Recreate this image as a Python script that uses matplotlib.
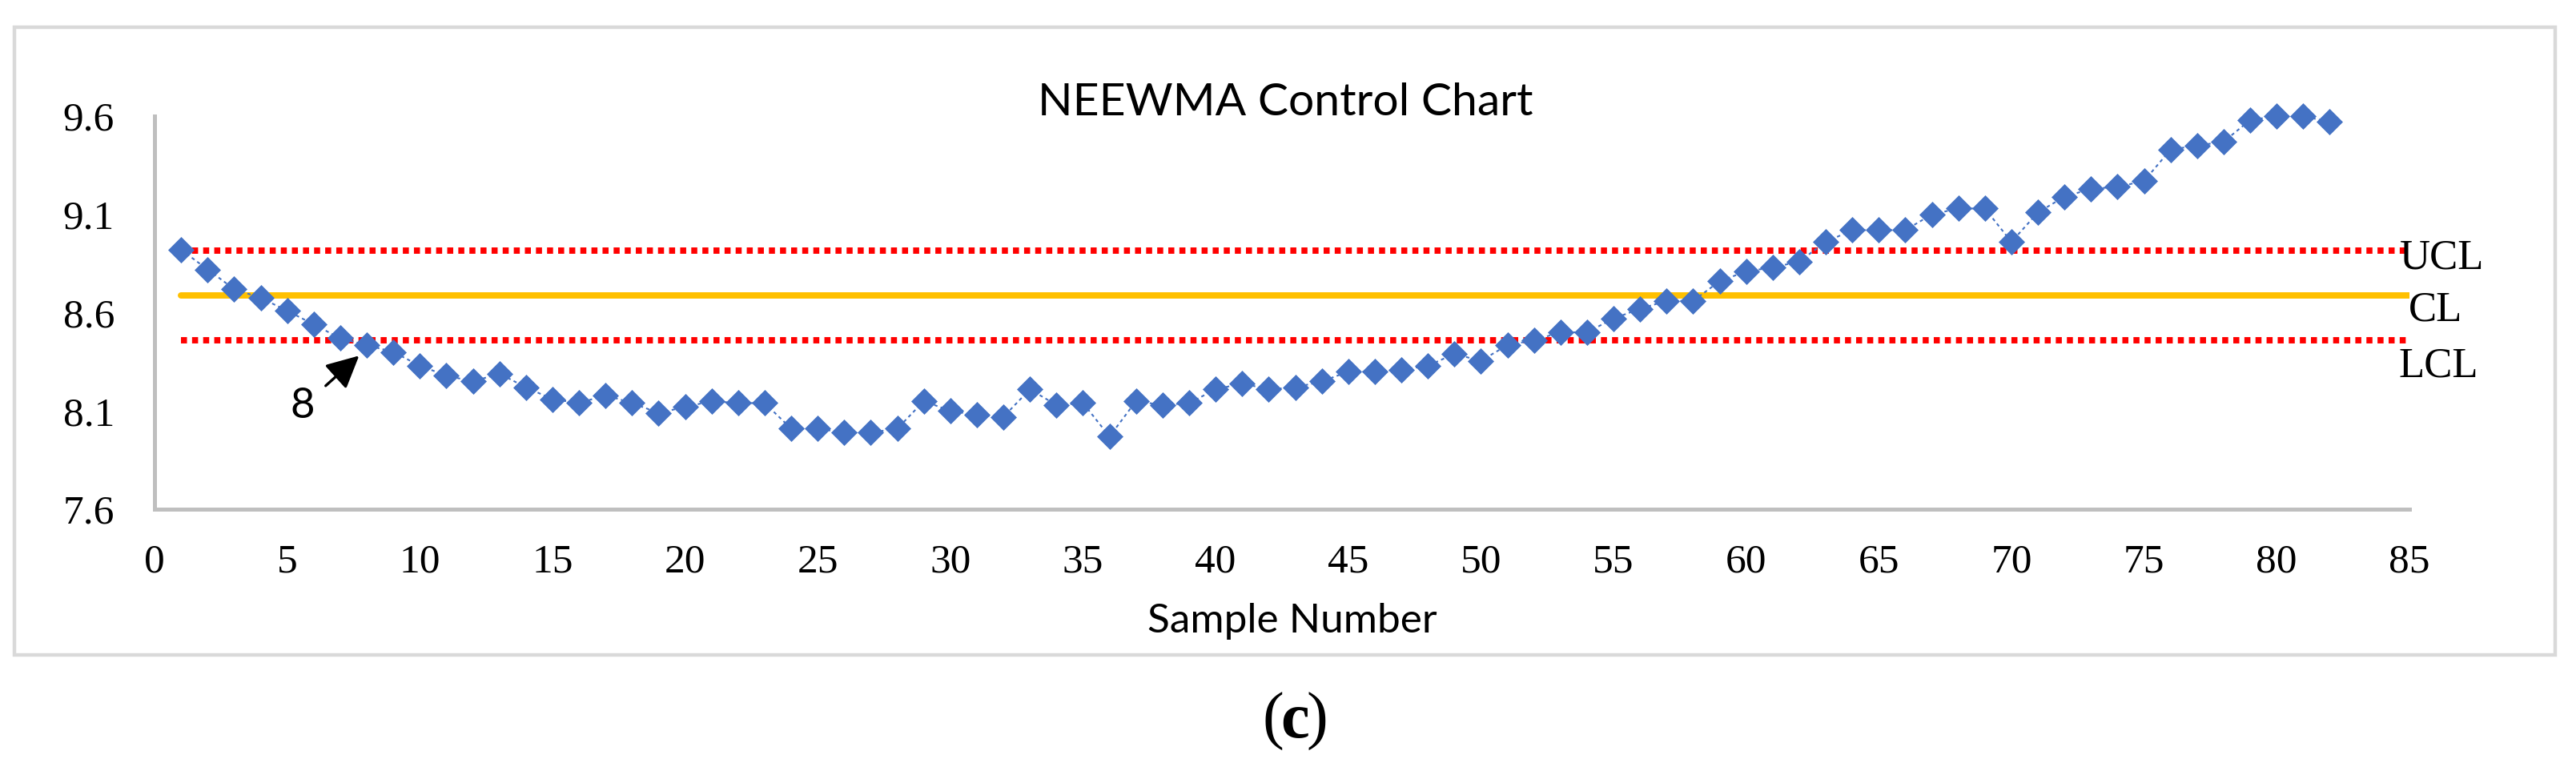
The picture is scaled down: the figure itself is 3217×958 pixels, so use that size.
import numpy as np
import matplotlib
matplotlib.use("Agg")
import matplotlib.pyplot as plt
from matplotlib.patches import Rectangle

# NEEWMA statistic per sample
samples = np.arange(1, 83)
neewma = [8.92, 8.82, 8.72, 8.675, 8.61, 8.54, 8.47, 8.435, 8.40, 8.33,
          8.28, 8.25, 8.29, 8.22, 8.16, 8.14, 8.18, 8.14, 8.09, 8.12,
          8.15, 8.14, 8.14, 8.01, 8.01, 7.99, 7.99, 8.01, 8.15, 8.10,
          8.08, 8.07, 8.21, 8.13, 8.14, 7.97, 8.15, 8.13, 8.14, 8.21,
          8.24, 8.21, 8.22, 8.25, 8.30, 8.30, 8.31, 8.33, 8.39, 8.355,
          8.435, 8.46, 8.50, 8.50, 8.57, 8.62, 8.66, 8.66, 8.76, 8.81,
          8.83, 8.86, 8.96, 9.02, 9.02, 9.02, 9.10, 9.13, 9.13, 8.96,
          9.11, 9.19, 9.23, 9.24, 9.27, 9.43, 9.45, 9.47, 9.58, 9.60,
          9.60, 9.57]

UCL = 8.917
CL = 8.688
LCL = 8.461
limit_x = [1, 85]

xticks = list(range(0, 90, 5))
yticks = [7.6, 8.1, 8.6, 9.1, 9.6]

serif = "Liberation Serif"
sans = "Lato"

fig = plt.figure(figsize=(32.17, 9.58), dpi=100)
ax = fig.add_axes([0.0600, 0.3361, 0.8753, 0.5125])

# outer chart frame
fig.patches.append(Rectangle((0.0056, 0.1461), 0.9863, 0.8184, transform=fig.transFigure,
                             fill=False, edgecolor="#d9d9d9", linewidth=3.2))

ax.plot(limit_x, [UCL, UCL], color="#ff0000", lw=5.7, linestyle=(0, (0.95, 0.8)),
        dash_capstyle="butt", zorder=2)
ax.plot(limit_x, [LCL, LCL], color="#ff0000", lw=5.7, linestyle=(0, (0.95, 0.8)),
        dash_capstyle="butt", zorder=2)
ax.plot(limit_x, [CL, CL], color="#ffc000", lw=5.7, solid_capstyle="round", zorder=2)

ax.plot(samples, neewma, color="#4472c4", lw=1.5, linestyle=(0, (2, 2)), zorder=3,
        clip_on=False)
ax.plot(samples, neewma, linestyle="none", marker="D", ms=16.5, color="#4472c4",
        mec="#4472c4", mew=0.5, zorder=4, clip_on=False)

ax.text(84.65, 8.826, "UCL", fontsize=38, family=serif, clip_on=False)
ax.text(84.98, 8.561, "CL", fontsize=38, family=serif, clip_on=False)
ax.text(84.6, 8.276, "LCL", fontsize=38, family=serif, clip_on=False)

ax.annotate("", xy=(7.71, 8.381), xytext=(6.45, 8.228),
            arrowprops=dict(arrowstyle="-|>", color="black", lw=2.4, mutation_scale=62,
                            shrinkA=0, shrinkB=0))
ax.text(5.58, 8.064, "8", fontsize=38, family=sans, ha="center", va="baseline")

ax.set_xlim(0, 85)
ax.set_ylim(7.6, 9.6)
ax.set_xticks(xticks)
ax.set_yticks(yticks)
ax.set_yticklabels([f"{v:.1f}" for v in yticks])
ax.tick_params(length=0, labelsize=37)
ax.tick_params(axis="y", pad=36)
ax.tick_params(axis="x", pad=31)
for lab in ax.get_xticklabels() + ax.get_yticklabels():
    lab.set_family(serif)

for s in ["top", "right"]:
    ax.spines[s].set_visible(False)
for s in ["left", "bottom"]:
    ax.spines[s].set_color("#bfbfbf")
    ax.spines[s].set_linewidth(3.6)

fig.text(0.499, 0.8497, "NEEWMA Control Chart", fontsize=41, family=sans,
         ha="center", va="baseline")
fig.text(0.5015, 0.1754, "Sample Number", fontsize=37, family=sans,
         ha="center", va="baseline")

# panel label "(c)" with bold c
fig.text(0.4942, 0.0386, "(", fontsize=58, family=serif, ha="center", va="baseline")
fig.text(0.5027, 0.0386, "c", fontsize=58, family=serif, fontweight="bold",
         ha="center", va="baseline")
fig.text(0.5112, 0.0386, ")", fontsize=58, family=serif, ha="center", va="baseline")

fig.savefig("out.png", dpi=100)
